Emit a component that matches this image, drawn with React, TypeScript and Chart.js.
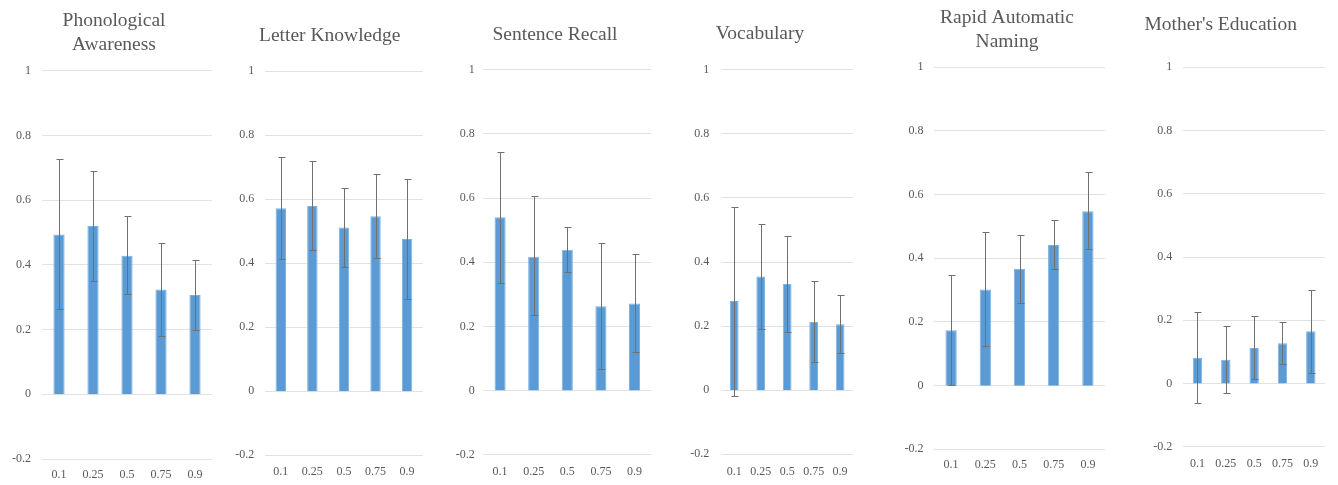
import React, { useEffect, useRef } from "react";
import { Chart, registerables } from "chart.js";

Chart.register(...registerables);

// ---- data ----
const categories = ["0.1", "0.25", "0.5", "0.75", "0.9"];
const yTickLabels = ["-0.2", "0", "0.2", "0.4", "0.6", "0.8", "1"];

const titles: (string | string[])[] = [
  ["Phonological", "Awareness"],
  "Letter Knowledge",
  "Sentence Recall",
  "Vocabulary",
  ["Rapid Automatic", "Naming"],
  "Mother's Education",
];

const paValues = [0.494, 0.52, 0.428, 0.324, 0.307];
const paLow = [0.264, 0.35, 0.309, 0.181, 0.2];
const paHigh = [0.726, 0.691, 0.551, 0.468, 0.416];

const lkValues = [0.572, 0.579, 0.512, 0.547, 0.476];
const lkLow = [0.414, 0.441, 0.39, 0.416, 0.288];
const lkHigh = [0.733, 0.72, 0.636, 0.678, 0.662];

const srValues = [0.54, 0.417, 0.439, 0.263, 0.271];
const srLow = [0.336, 0.235, 0.37, 0.067, 0.119];
const srHigh = [0.744, 0.605, 0.509, 0.459, 0.425];

const voValues = [0.278, 0.355, 0.331, 0.213, 0.206];
const voLow = [-0.018, 0.191, 0.183, 0.087, 0.116];
const voHigh = [0.573, 0.519, 0.482, 0.34, 0.297];

const ranValues = [0.174, 0.302, 0.367, 0.442, 0.548];
const ranLow = [0.003, 0.126, 0.259, 0.365, 0.428];
const ranHigh = [0.349, 0.482, 0.474, 0.52, 0.67];

const meValues = [0.081, 0.075, 0.112, 0.127, 0.165];
const meLow = [-0.061, -0.03, 0.013, 0.061, 0.034];
const meHigh = [0.227, 0.181, 0.212, 0.194, 0.295];

const seriesValues = [paValues, lkValues, srValues, voValues, ranValues, meValues];
const seriesLow = [paLow, lkLow, srLow, voLow, ranLow, meLow];
const seriesHigh = [paHigh, lkHigh, srHigh, voHigh, ranHigh, meHigh];

// ---- layout (pixels) ----
type Layout = {
  titleCenter: number;
  gridLeft: number;
  gridRight: number;
  titlePadTop: number;
  titlePadBottom: number;
  plotBottom: number;
  yPad: number;
  xPad: number;
};

const layouts: Layout[] = [
  { titleCenter: 114, gridLeft: 42, gridRight: 212, titlePadTop: 9.6, titlePadBottom: 14.1, plotBottom: 459, yPad: 11, xPad: 8.8 },
  { titleCenter: 329.7, gridLeft: 265, gridRight: 424, titlePadTop: 24.4, titlePadBottom: 23.4, plotBottom: 455.3, yPad: 10.7, xPad: 9.4 },
  { titleCenter: 555, gridLeft: 483.3, gridRight: 652, titlePadTop: 23.4, titlePadBottom: 22.8, plotBottom: 454.7, yPad: 8.5, xPad: 10 },
  { titleCenter: 760, gridLeft: 721, gridRight: 857.7, titlePadTop: 21.8, titlePadBottom: 24.4, plotBottom: 454.3, yPad: 11.7, xPad: 10.4 },
  { titleCenter: 1007, gridLeft: 934, gridRight: 1105, titlePadTop: 6.6, titlePadBottom: 13.7, plotBottom: 449.3, yPad: 10.5, xPad: 8.7 },
  { titleCenter: 1220.7, gridLeft: 1183.3, gridRight: 1328, titlePadTop: 13.3, titlePadBottom: 30.5, plotBottom: 446.7, yPad: 11, xPad: 9.7 },
];

const Y_AXIS_W = 42;
const HEIGHT = 485;
const FONT = "'Liberation Serif', 'Times New Roman', serif";
const TEXT = "#595959";

function Panel({ idx }: { idx: number }) {
  const ref = useRef<HTMLCanvasElement | null>(null);
  const L = layouts[idx];
  const canvasLeft = Math.floor(L.gridLeft - Y_AXIS_W);
  const width = Math.ceil(L.gridRight - canvasLeft);

  useEffect(() => {
    if (!ref.current) return;
    const low = seriesLow[idx];
    const high = seriesHigh[idx];
    const errorBars = {
      id: "errorBars" + idx,
      afterDatasetsDraw(chart: any) {
        const meta = chart.getDatasetMeta(0);
        const y = chart.scales.y;
        const ctx = chart.ctx;
        ctx.save();
        ctx.strokeStyle = "#707070";
        ctx.lineWidth = 1;
        meta.data.forEach((bar: any, i: number) => {
          const x = Math.round(bar.x) + 0.5;
          const yl = Math.round(y.getPixelForValue(low[i])) + 0.5;
          const yh = Math.round(y.getPixelForValue(high[i])) + 0.5;
          ctx.beginPath();
          ctx.moveTo(x, yl);
          ctx.lineTo(x, yh);
          ctx.moveTo(x - 3, yl);
          ctx.lineTo(x + 4, yl);
          ctx.moveTo(x - 3, yh);
          ctx.lineTo(x + 4, yh);
          ctx.stroke();
        });
        ctx.restore();
      },
    };
    // centre the title where the reference has it (relative to this canvas)
    const titleShift = {
      id: "titleShift" + idx,
      afterLayout(chart: any) {
        const tb = chart.titleBlock;
        if (!tb) return;
        const c = L.titleCenter - canvasLeft;
        const half = chart.width / 2;
        tb.left = c - half;
        tb.right = c + half;
      },
    };
    const chart = new Chart(ref.current, {
      type: "bar",
      data: {
        labels: categories,
        datasets: [
          {
            data: seriesValues[idx],
            backgroundColor: "#5b9bd5",
            borderColor: "#7cb0e0",
            borderWidth: 1,
            barPercentage: 0.33,
            categoryPercentage: 1,
          },
        ],
      },
      options: {
        animation: false,
        responsive: false,
        maintainAspectRatio: false,
        layout: { padding: { left: 0, right: L.gridRight - canvasLeft - width, top: 0, bottom: 0 } },
        plugins: {
          legend: { display: false },
          tooltip: { enabled: false },
          title: {
            display: true,
            text: titles[idx] as any,
            color: TEXT,
            font: { family: FONT, size: 19.5, weight: "normal", lineHeight: "23.5px" as any },
            padding: { top: L.titlePadTop, bottom: L.titlePadBottom },
          },
        },
        scales: {
          x: {
            grid: { display: false, drawTicks: false },
            border: { display: false },
            ticks: { color: TEXT, font: { family: FONT, size: 12 }, padding: L.xPad, maxRotation: 0 },
            afterFit: (scale: any) => {
              scale.height = HEIGHT - L.plotBottom;
            },
          },
          y: {
            min: -0.2,
            max: 1,
            grid: { color: "#e2e2e2", lineWidth: 1, drawTicks: false },
            border: { display: false },
            ticks: {
              stepSize: 0.2,
              color: TEXT,
              font: { family: FONT, size: 12 },
              padding: L.yPad,
              callback: (_v: any, i: number) => yTickLabels[i],
            },
            afterFit: (scale: any) => {
              scale.width = L.gridLeft - canvasLeft;
            },
          },
        },
      },
      plugins: [errorBars, titleShift],
    });
    return () => chart.destroy();
  }, [idx]);

  return (
    <canvas
      ref={ref}
      width={width}
      height={HEIGHT}
      style={{ position: "absolute", left: canvasLeft, top: 0, width, height: HEIGHT }}
    />
  );
}

export default function App() {
  return (
    <div style={{ position: "absolute", left: 0, top: 0, width: 1338, height: 485, background: "#ffffff" }}>
      {layouts.map((_, i) => (
        <Panel key={i} idx={i} />
      ))}
    </div>
  );
}
